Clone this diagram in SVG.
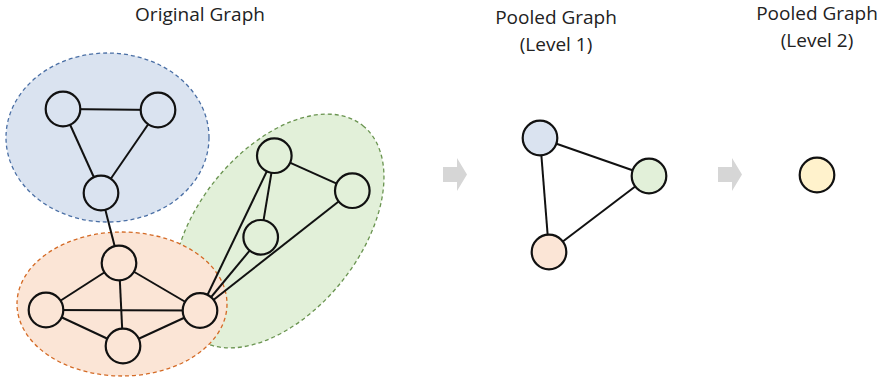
<svg xmlns="http://www.w3.org/2000/svg" width="887" height="380" viewBox="0 0 887 380">
<style>
.t{font-family:"Open Sans","Noto Sans",sans-serif;font-size:19px;fill:#222;text-anchor:middle}
.e{stroke:#111;stroke-width:2;fill:none}
.n{stroke:#111;stroke-width:2.2}
.blue{fill:#dae3f0}
.orange{fill:#fbe5d6}
.green{fill:#e2f0d9}
.yellow{fill:#fff2cc}
.reg{stroke-width:1.3;stroke-dasharray:4 3}
.arr{fill:#d6d6d6}
</style>
<rect width="887" height="380" fill="#fff"/>
<g id="titles">
<text class="t" x="200" y="21">Original Graph</text>
<text class="t" x="556" y="24">Pooled Graph</text>
<text class="t" x="556" y="51">(Level 1)</text>
<text class="t" x="817" y="20">Pooled Graph</text>
<text class="t" x="817" y="47">(Level 2)</text>
</g>
<g id="regions">
<ellipse id="region-blue" class="blue reg" cx="107.5" cy="137.5" rx="101.5" ry="84.5" stroke="#4a6fa5"/>
<ellipse id="region-green" class="green reg" cx="0" cy="0" rx="135" ry="81" transform="translate(278.5 231) rotate(-51.3)" stroke="#6a9450"/>
<ellipse id="region-orange" class="orange reg" cx="122" cy="304" rx="105" ry="72" stroke="#d46a25"/>
</g>
<g id="connectors">
<line class="e" x1="63" y1="109" x2="158" y2="110"/>
<line class="e" x1="63" y1="109" x2="101" y2="193"/>
<line class="e" x1="158" y1="110" x2="101" y2="193"/>
<line class="e" x1="101" y1="193" x2="119" y2="263"/>
<line class="e" x1="119" y1="263" x2="46" y2="310"/>
<line class="e" x1="119" y1="263" x2="200" y2="310.5"/>
<line class="e" x1="119" y1="263" x2="123" y2="346"/>
<line class="e" x1="46" y1="310" x2="200" y2="310.5"/>
<line class="e" x1="46" y1="310" x2="123" y2="346"/>
<line class="e" x1="123" y1="346" x2="200" y2="310.5"/>
<line class="e" x1="200" y1="310.5" x2="274.3" y2="155.7"/>
<line class="e" x1="200" y1="310.5" x2="260.7" y2="237.3"/>
<line class="e" x1="200" y1="310.5" x2="352.3" y2="190.7"/>
<line class="e" x1="274.3" y1="155.7" x2="260.7" y2="237.3"/>
<line class="e" x1="274.3" y1="155.7" x2="352.3" y2="190.7"/>
<line class="e" x1="540" y1="138" x2="649" y2="176"/>
<line class="e" x1="540" y1="138" x2="549" y2="252"/>
<line class="e" x1="649" y1="176" x2="549" y2="252"/>
<path class="arr" d="M443,167 L457,167 L457,158 L467,174.5 L457,191 L457,182 L443,182 Z"/>
<path class="arr" d="M718,167 L732,167 L732,158 L742,174.5 L732,191 L732,182 L718,182 Z"/>
</g>
<g id="node-b1"><circle class="n blue" cx="63" cy="109" r="17.3"/></g>
<g id="node-b2"><circle class="n blue" cx="158" cy="110" r="17.3"/></g>
<g id="node-b3"><circle class="n blue" cx="101" cy="193" r="17.3"/></g>
<g id="node-o1"><circle class="n orange" cx="119" cy="263" r="17.3"/></g>
<g id="node-o2"><circle class="n orange" cx="46" cy="310" r="17.3"/></g>
<g id="node-o3"><circle class="n orange" cx="123" cy="346" r="17.3"/></g>
<g id="node-o4"><circle class="n orange" cx="200" cy="310.5" r="17.3"/></g>
<g id="node-g1"><circle class="n green" cx="274.3" cy="155.7" r="17.3"/></g>
<g id="node-g2"><circle class="n green" cx="352.3" cy="190.7" r="17.3"/></g>
<g id="node-g3"><circle class="n green" cx="260.7" cy="237.3" r="17.3"/></g>
<g id="node-p1-blue"><circle class="n blue" cx="540" cy="138" r="17.3"/></g>
<g id="node-p1-green"><circle class="n green" cx="649" cy="176" r="17.3"/></g>
<g id="node-p1-orange"><circle class="n orange" cx="549" cy="252" r="17.3"/></g>
<g id="node-p2"><circle class="n yellow" cx="817" cy="175" r="17.3"/></g>
</svg>
